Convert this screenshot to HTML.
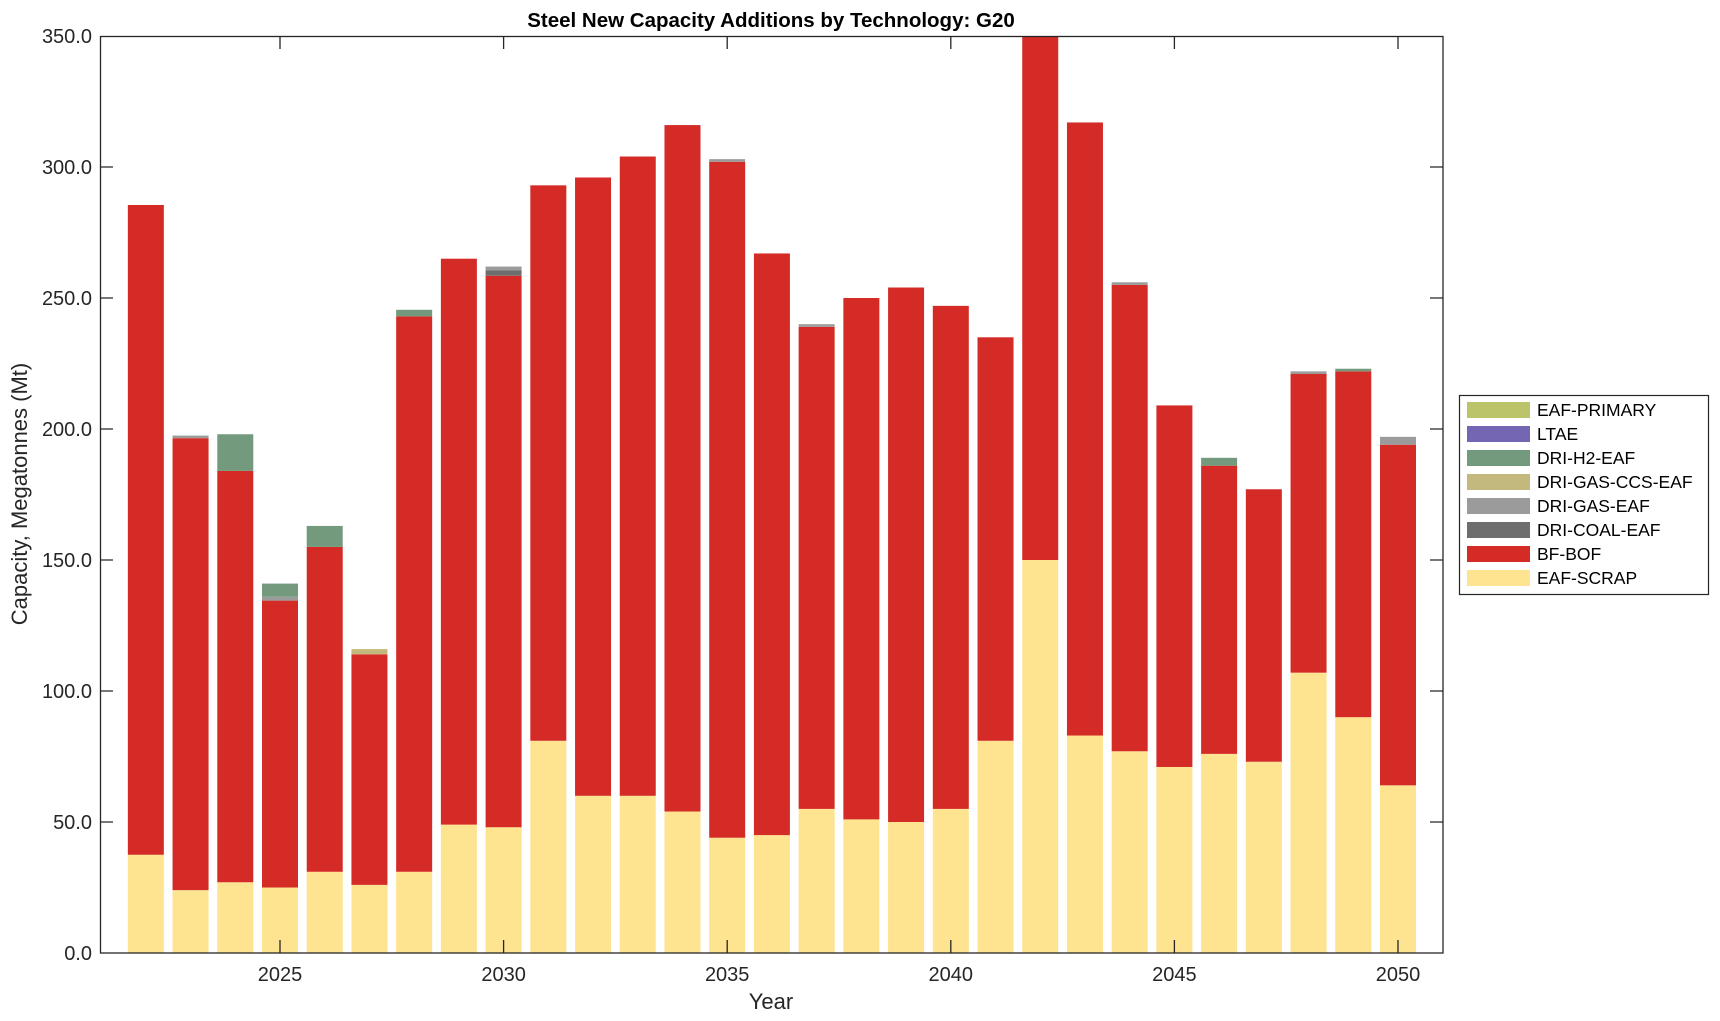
<!DOCTYPE html>
<html><head><meta charset="utf-8"><style>
html,body{margin:0;padding:0;background:#fff}
svg{display:block;font-family:"Liberation Sans",Arial,sans-serif}
</style></head><body>
<svg id="s" width="1720" height="1021" viewBox="0 0 1720 1021" xmlns="http://www.w3.org/2000/svg">
<rect width="1720" height="1021" fill="#fff"/>
<g id="bars"></g>
<g stroke="#262626" stroke-width="1.3" fill="none">
<rect x="100.5" y="36.5" width="1342.5" height="916.5"/>
<path d="M100 822h13M100 691h13M100 560h13M100 429h13M100 298h13M100 167h13M1443 822h-13M1443 691h-13M1443 560h-13M1443 429h-13M1443 298h-13M1443 167h-13M280 953v-13M503.6 953v-13M727.2 953v-13M950.8 953v-13M1174.4 953v-13M1398 953v-13M280 36v13M503.6 36v13M727.2 36v13M950.8 36v13M1174.4 36v13M1398 36v13"/>
</g>
<g font-size="20" fill="#262626" text-anchor="end">
<text x="92" y="960">0.0</text>
<text x="92" y="829">50.0</text>
<text x="92" y="698">100.0</text>
<text x="92" y="567">150.0</text>
<text x="92" y="436">200.0</text>
<text x="92" y="305">250.0</text>
<text x="92" y="174">300.0</text>
<text x="92" y="43">350.0</text>
</g>
<g font-size="20" fill="#262626" text-anchor="middle">
<text x="280" y="981">2025</text>
<text x="503.6" y="981">2030</text>
<text x="727.2" y="981">2035</text>
<text x="950.8" y="981">2040</text>
<text x="1174.4" y="981">2045</text>
<text x="1398" y="981">2050</text>
<text x="771" y="1009" font-size="22">Year</text>
<text x="771" y="27" font-size="20.5" font-weight="bold" fill="#000">Steel New Capacity Additions by Technology: G20</text>
<text transform="translate(27,494) rotate(-90)" font-size="22">Capacity, Megatonnes (Mt)</text>
</g>
<rect x="1459.5" y="395.5" width="249" height="199" fill="#fff" stroke="#262626" stroke-width="1.2"/>
<g id="leg" font-size="17.5" fill="#000"></g>
</svg>
<script>
const X=y=>280+(y-2025)*44.72, Y=v=>953-v*2.62;
const C={s:"#fee391",b:"#d42b26",c:"#6e6e6e",g:"#9b9b9b",x:"#c4b97d",h:"#739a7d",l:"#7566b3",p:"#bcc46a"};
const D=[
[2022,[["s",37.5],["b",285.5]]],[2023,[["s",24],["b",196.5],["g",197.5]]],
[2024,[["s",27],["b",184],["h",198]]],[2025,[["s",25],["b",134.5],["g",136],["h",141]]],
[2026,[["s",31],["b",155],["h",163]]],[2027,[["s",26],["b",114],["x",116]]],
[2028,[["s",31],["b",243],["h",245.5]]],[2029,[["s",49],["b",265]]],
[2030,[["s",48],["b",258.5],["c",260.5],["g",262]]],[2031,[["s",81],["b",293]]],
[2032,[["s",60],["b",296]]],[2033,[["s",60],["b",304]]],[2034,[["s",54],["b",316]]],
[2035,[["s",44],["b",302],["g",303]]],[2036,[["s",45],["b",267]]],
[2037,[["s",55],["b",239],["g",240]]],[2038,[["s",51],["b",250]]],[2039,[["s",50],["b",254]]],
[2040,[["s",55],["b",247]]],[2041,[["s",81],["b",235]]],[2042,[["s",150],["b",350]]],
[2043,[["s",83],["b",317]]],[2044,[["s",77],["b",255],["g",256]]],[2045,[["s",71],["b",209]]],
[2046,[["s",76],["b",186],["h",189]]],[2047,[["s",73],["b",177]]],
[2048,[["s",107],["b",221],["g",222]]],[2049,[["s",90],["b",222],["h",223]]],
[2050,[["s",64],["b",194],["g",197]]]];
let h="";
for(const [yr,segs] of D){let prev=0;const x=X(yr)-18;
for(const [k,v] of segs){h+=`<rect x="${x}" y="${Y(v)}" width="36" height="${Y(prev)-Y(v)}" fill="${C[k]}"/>`;prev=v;}}
document.getElementById("bars").innerHTML=h;
</script>
<script>
const L=[["p","EAF-PRIMARY"],["l","LTAE"],["h","DRI-H2-EAF"],["x","DRI-GAS-CCS-EAF"],["g","DRI-GAS-EAF"],["c","DRI-COAL-EAF"],["b","BF-BOF"],["s","EAF-SCRAP"]];
const CC={s:"#fee391",b:"#d42b26",c:"#6e6e6e",g:"#9b9b9b",x:"#c4b97d",h:"#739a7d",l:"#7566b3",p:"#bcc46a"};
let g="";L.forEach(([k,t],i)=>{const cy=410+i*24;g+=`<rect x="1467" y="${cy-8}" width="63" height="16" fill="${CC[k]}"/><text x="1537" y="${cy+6}">${t}</text>`;});
document.getElementById("leg").innerHTML=g;
</script>
</body></html>
